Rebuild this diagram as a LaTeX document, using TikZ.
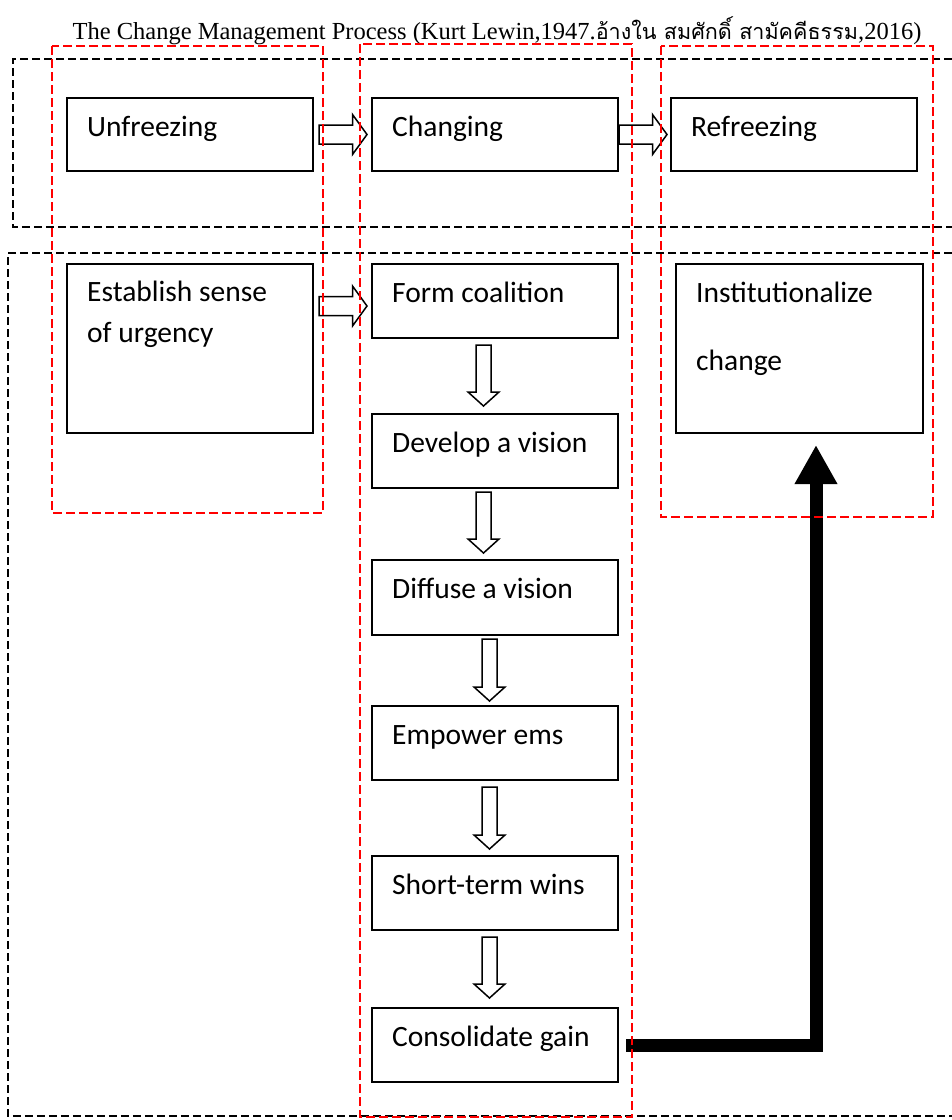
\documentclass[tikz,border=0pt]{standalone}
\usepackage{fontspec}
\setmainfont{Liberation Serif}
\newfontfamily\boxfont{Carlito}
\newfontfamily\thaifont[Script=Thai,Scale=0.88]{Loma}
\usetikzlibrary{arrows.meta,calc}
\newcommand{\harrow}[2]{\path[blockarrow] let \p1=#1, \p2=#2 in (\x1,\y1+9.5pt) -- (\x2-14.5pt,\y1+9.5pt) -- (\x2-14.5pt,\y1+20pt) -- (\x2,\y1) -- (\x2-14.5pt,\y1-20pt) -- (\x2-14.5pt,\y1-9.5pt) -- (\x1,\y1-9.5pt) -- cycle;}
\newcommand{\varrow}[2]{\path[blockarrow] let \p1=#1, \p2=#2 in (\x1-7.5pt,\y1) -- (\x1-7.5pt,\y2+14pt) -- (\x1-15.5pt,\y2+14pt) -- (\x1,\y2) -- (\x1+15.5pt,\y2+14pt) -- (\x1+7.5pt,\y2+14pt) -- (\x1+7.5pt,\y1) -- cycle;}
\begin{document}
\begin{tikzpicture}[x=1pt,y=-1pt,
  box/.style={draw, line width=2pt, anchor=north west, inner sep=0pt, minimum width=246pt},
  lbl/.style={anchor=base west, inner sep=0pt, font=\boxfont\fontsize{29.5}{35}\selectfont},
  bdash/.style={draw=black, line width=1.8pt, dash pattern=on 8pt off 4pt},
  rdash/.style={draw=red, line width=1.8pt, dash pattern=on 9pt off 4pt},
  blockarrow/.style={draw, fill=white, line width=1.5pt, line join=miter},
  bigarrow/.style={line width=13pt, -{Triangle[length=39pt,width=40pt]}, line join=miter}
]
\useasboundingbox (0,0) rectangle (952,1120);

% title
\node[anchor=base, inner sep=0pt, font=\fontsize{24.5}{30}\selectfont] (title) at (497,39)
  {The Change Management Process (Kurt Lewin,1947.{\thaifont อ้างใน สมศักดิ์ สามัคคีธรรม},2016)};

% black dashed frames
\draw[bdash] (952,59) -- (13,59) -- (13,227) -- (952,227);
\draw[bdash] (952,253) -- (8,253) -- (8,1116) -- (952,1116);

% boxes
\node[box, minimum height=73pt] (unf) at (66,97) {};
\node[box, minimum height=73pt] (chg) at (371,97) {};
\node[box, minimum height=73pt] (ref) at (670,97) {};
\node[box, minimum height=169pt] (est) at (66,263) {};
\node[box, minimum height=74pt] (form) at (371,263) {};
\node[box, minimum height=74pt] (dev) at (371,413) {};
\node[box, minimum height=75pt] (dif) at (371,559) {};
\node[box, minimum height=74pt] (emp) at (371,705) {};
\node[box, minimum height=74pt] (sht) at (371,855) {};
\node[box, minimum height=74pt] (con) at (371,1007) {};
\node[box, minimum width=247pt, minimum height=169pt] (inst) at (675,263) {};

% labels
\node[lbl] (unf-t) at ([shift={(21,39)}]unf.north west) {Unfreezing};
\node[lbl] (chg-t) at ([shift={(21,39)}]chg.north west) {Changing};
\node[lbl] (ref-t) at ([shift={(21,39)}]ref.north west) {Refreezing};
\node[lbl] (est-t1) at ([shift={(21,38)}]est.north west) {Establish sense};
\node[lbl] (est-t2) at ([shift={(21,79)}]est.north west) {of urgency};
\node[lbl] (form-t) at ([shift={(21,39)}]form.north west) {Form coalition};
\node[lbl] (dev-t) at ([shift={(21,39)}]dev.north west) {Develop a vision};
\node[lbl] (dif-t) at ([shift={(21,39)}]dif.north west) {Diffuse a vision};
\node[lbl] (emp-t) at ([shift={(21,39)}]emp.north west) {Empower ems};
\node[lbl] (sht-t) at ([shift={(21,39)}]sht.north west) {Short-term wins};
\node[lbl] (con-t) at ([shift={(21,39)}]con.north west) {Consolidate gain};
\node[lbl] (inst-t1) at ([shift={(21,39)}]inst.north west) {Institutionalize};
\node[lbl] (inst-t2) at ([shift={(21,107)}]inst.north west) {change};

% block arrows
\harrow{([xshift=5pt]unf.east)}{([xshift=-4pt]chg.west)}
\harrow{(chg.east)}{([xshift=-3pt]ref.west)}
\harrow{($(est.east |- form.west)+(5,5)$)}{($(form.west)+(-4,5)$)}
\varrow{([xshift=-11.5pt,yshift=-6pt]form.south)}{([xshift=-11.5pt,yshift=7pt]dev.north)}
\varrow{([xshift=-11.5pt,yshift=-3pt]dev.south)}{([xshift=-11.5pt,yshift=6pt]dif.north)}
\varrow{([xshift=-5.5pt,yshift=-3pt]dif.south)}{([xshift=-5.5pt,yshift=4pt]emp.north)}
\varrow{([xshift=-5.5pt,yshift=-6pt]emp.south)}{([xshift=-5.5pt,yshift=6pt]sht.north)}
\varrow{([xshift=-5.5pt,yshift=-6pt]sht.south)}{([xshift=-5.5pt,yshift=9pt]con.north)}

% thick arrow
\coordinate (tipend) at ($(inst.south)+(16.5,11)$);
\draw[bigarrow] ([xshift=7pt]con.east) -| (tipend);

% red dashed frames
\draw[rdash] (52,46) rectangle (323,513);
\draw[rdash] (360,44) rectangle (632,1117);
\draw[rdash] (661,46) rectangle (933,517);
\end{tikzpicture}
\end{document}
